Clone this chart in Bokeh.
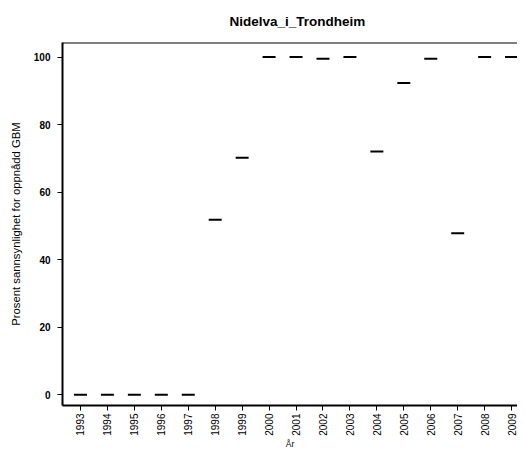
from bokeh.plotting import figure
from bokeh.models import Range1d, FixedTicker, Span, ColumnDataSource
from bokeh.embed import file_html
from bokeh.resources import INLINE

years = [1993, 1994, 1995, 1996, 1997, 1998, 1999, 2000, 2001, 2002,
         2003, 2004, 2005, 2006, 2007, 2008, 2009]
pct = [0, 0, 0, 0, 0, 51.8, 70.2, 100, 100, 99.5,
       100, 72.0, 92.3, 99.5, 47.8, 100, 100]
y_ticks = [0, 20, 40, 60, 80, 100]
title = "Nidelva_i_Trondheim"
x_label = "År"
y_label = "Prosent sannsynlighet for oppnådd GBM"

FONT = "Liberation Sans"

src = ColumnDataSource(dict(x=years, y=pct))

p = figure(width=517, height=451, output_backend="svg", toolbar_location=None,
           x_range=Range1d(1992.332, 2009.22), y_range=Range1d(-3.18, 104.3),
           min_border_left=62, min_border_right=0, min_border_top=42,
           min_border_bottom=44, title=title)
p.outline_line_color = None
p.grid.visible = False
p.background_fill_color = "white"
p.border_fill_color = "white"

p.title.align = "left"
p.title.vertical_align = "top"
p.title.text_font = FONT
p.title.text_font_size = "13.5px"
p.title.text_font_style = "bold"
p.title.text_color = "black"
p.title.standoff = 24
p.title.offset = 167

p.scatter("x", "y", source=src, marker="dash", size=13, line_width=2,
          line_color="black")

top = Span(location=p.y_range.end, dimension="width", line_color="black", line_width=2)
p.add_layout(top)

xa = p.xaxis[0]
xa.ticker = FixedTicker(ticks=years)
xa.major_label_orientation = 1.5707963
xa.major_label_text_font = FONT
xa.major_label_text_font_size = "10px"
xa.major_label_text_color = "black"
xa.major_tick_out = 5
xa.major_tick_in = 0
xa.minor_tick_out = 0
xa.minor_tick_in = 0
xa.major_label_standoff = 3
xa.axis_line_width = 2
xa.axis_line_color = "black"
xa.major_tick_line_color = "black"
xa.axis_label = x_label
xa.axis_label_text_font = FONT
xa.axis_label_text_font_size = "8.5px"
xa.axis_label_text_font_style = "normal"
xa.axis_label_text_color = "black"
xa.axis_label_standoff = 0

ya = p.yaxis[0]
ya.ticker = FixedTicker(ticks=y_ticks)
ya.major_label_text_font = FONT
ya.major_label_text_font_size = "10px"
ya.major_label_text_font_style = "bold"
ya.major_label_text_color = "black"
ya.major_label_orientation = "horizontal"
ya.major_tick_out = 5
ya.major_tick_in = 0
ya.minor_tick_out = 0
ya.minor_tick_in = 0
ya.major_label_standoff = 7
ya.axis_line_width = 2
ya.axis_line_color = "black"
ya.major_tick_line_color = "black"
ya.axis_label = y_label
ya.axis_label_text_font = FONT
ya.axis_label_text_font_size = "11.3px"
ya.axis_label_text_font_style = "normal"
ya.axis_label_text_color = "black"
ya.axis_label_standoff = 9

open("out.html", "w").write(file_html(p, INLINE))
